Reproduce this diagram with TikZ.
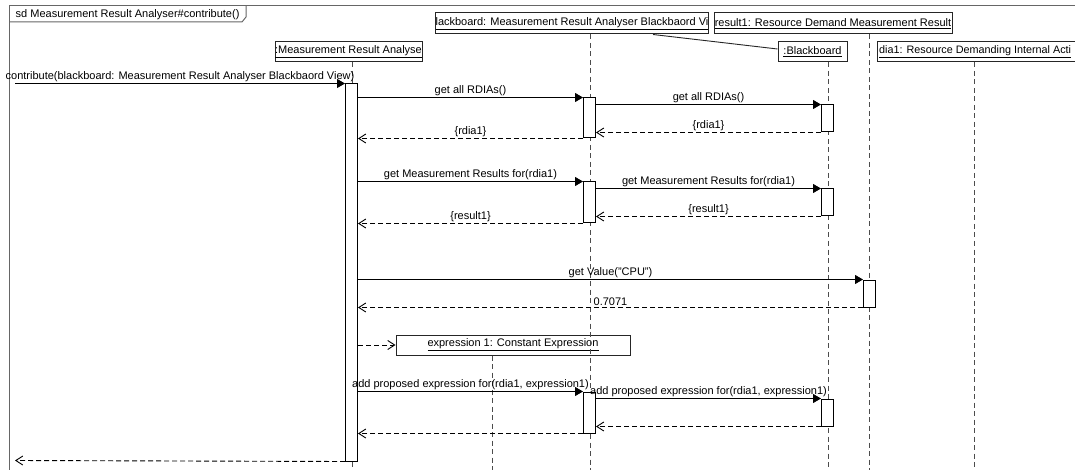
\documentclass[tikz,border=0pt]{standalone}
\usepackage{fontspec}
\setmainfont{Liberation Sans}
\usetikzlibrary{arrows.meta, positioning, calc}
\tikzset{
    objbox/.style={draw=black!85, fill=white, line width=1pt, inner xsep=0pt, inner ysep=0pt,
        minimum height=20pt, font=\fontsize{11}{13}\selectfont},
    lifeline/.style={draw=black!70, line width=1pt, dash pattern=on 5pt off 3.5pt},
    frame/.style={draw=black!60, line width=1pt},
    act/.style={draw=black, fill=white, line width=1pt, minimum width=12pt, inner sep=0pt, anchor=north},
    call/.style={draw=black, line width=0.9pt, -{Triangle[length=8pt,width=9pt]}},
    reply/.style={draw=black, line width=0.9pt, dash pattern=on 5pt off 3pt, -{Straight Barb[length=7pt,width=9pt]}},
    msg/.style={font=\fontsize{11}{13}\selectfont, inner sep=1pt, above, midway}
}

\begin{document}
\begin{tikzpicture}[x=1pt, y=-1pt]
    \useasboundingbox (0,0) rectangle (1075,470);
    % frame and its tab
    \draw[frame] (1090,6) -| (9.5,485);
    \draw[frame] (9.5,22) -- (242,22) -- (246,17) -- (246,6);
    \node[font=\fontsize{11}{13}\selectfont, inner sep=0pt, anchor=west] (title) at (15.5,14.5) {sd Measurement Result Analyser\#contribute()};
    % lifeline heads
    \node[objbox, minimum width=147pt] (l1) at (348.5,52) {\underline{:Measurement Result Analyse}};
    \node[objbox, minimum width=272pt, minimum height=21pt] (l2) at (572,23.5) {\underline{lackboard: Measurement Result Analyser Blackbaord Vi}};
    \node[objbox, minimum width=238pt, minimum height=21pt] (l3) at (833,23.5) {\underline{result1: Resource Demand Measurement Result}};
    \node[objbox, minimum width=69pt] (l4) at (812.5,52) {\underline{:Blackboard}};
    \node[objbox, anchor=west, minimum width=214pt] (l5) at (877,52) {};
    \node[font=\fontsize{10.8}{13}\selectfont, inner sep=0pt, anchor=west] (t5) at (879,52) {\underline{dia1: Resource Demanding Internal Acti}};
    \node[objbox, minimum width=234pt] (l6) at (513,345) {\underline{expression 1: Constant Expression}};
    \draw[draw=black!85, line width=0.9pt] (l2.south -| 653,0) -- ([yshift=3pt]l4.west);
    % lifelines
    \coordinate (e1) at (352,470);
    \coordinate (e2) at (590,470);
    \coordinate (e3) at (869,470);
    \coordinate (e4) at (828,470);
    \coordinate (e5) at (974,470);
    \coordinate (e6) at (492,470);
    \draw[lifeline] (l1.south -| e1) -- (e1);
    \draw[lifeline] (l2.south -| e2) -- (e2);
    \draw[lifeline] (l3.south -| e3) -- (e3);
    \draw[lifeline] (l4.south -| e4) -- (e4);
    \draw[lifeline] (l5.south -| e5) -- (e5);
    \draw[lifeline] (l6.south -| e6) -- (e6);
    % activations
    \node[act, minimum height=377pt] (a0) at (351.5,83.5) {};
    \node[act, minimum height=40pt] (a1) at (589.5,97.5) {};
    \node[act, minimum height=27pt] (a2) at (827.5,104.5) {};
    \node[act, minimum height=41pt] (a3) at (589.5,181.5) {};
    \node[act, minimum height=27pt] (a4) at (827.5,188.5) {};
    \node[act, minimum height=27pt] (a5) at (869.5,279.5) {};
    \node[act, minimum height=41pt] (a6) at (589.5,391.5) {};
    \node[act, minimum height=27pt] (a7) at (827.5,398.5) {};
    % messages
    \coordinate (g1) at (15,83.5);
    \coordinate (g2) at (15,460.5);
    \draw[call] (g1) -- (a0.north west) node[msg] {contribute(blackboard: Measurement Result Analyser Blackbaord View)};
    \draw[call] (a0.east |- a1.north) -- (a1.north west) node[msg] {get all RDIAs()};
    \draw[call] (a1.east |- a2.north) -- (a2.north west) node[msg] {get all RDIAs()};
    \draw[reply] (a2.south west) -- (a1.east |- a2.south) node[msg] {\{rdia1\}};
    \draw[reply] (a1.south west) -- (a0.east |- a1.south) node[msg] {\{rdia1\}};
    \draw[call] (a0.east |- a3.north) -- (a3.north west) node[msg] {get Measurement Results for(rdia1)};
    \draw[call] (a3.east |- a4.north) -- (a4.north west) node[msg] {get Measurement Results for(rdia1)};
    \draw[reply] (a4.south west) -- (a3.east |- a4.south) node[msg] {\{result1\}};
    \draw[reply] (a3.south west) -- (a0.east |- a3.south) node[msg] {\{result1\}};
    \draw[call] (a0.east |- a5.north) -- (a5.north west) node[msg] {get Value("CPU")};
    \draw[reply] (a5.south west) -- (a0.east |- a5.south) node[msg] {0.7071};
    \draw[reply] (a0.east |- l6.west) -- (l6.west);
    \draw[call] (a0.east |- a6.north) -- (a6.north west) node[msg] {add proposed expression for(rdia1, expression1)};
    \draw[call] (a6.east |- a7.north) -- (a7.north west) node[msg] {add proposed expression for(rdia1, expression1)};
    \draw[reply] (a7.south west) -- (a6.east |- a7.south);
    \draw[reply] (a6.south west) -- (a0.east |- a6.south);
    \draw[reply] (a0.south west) -- (g2);
\end{tikzpicture}
\end{document}
